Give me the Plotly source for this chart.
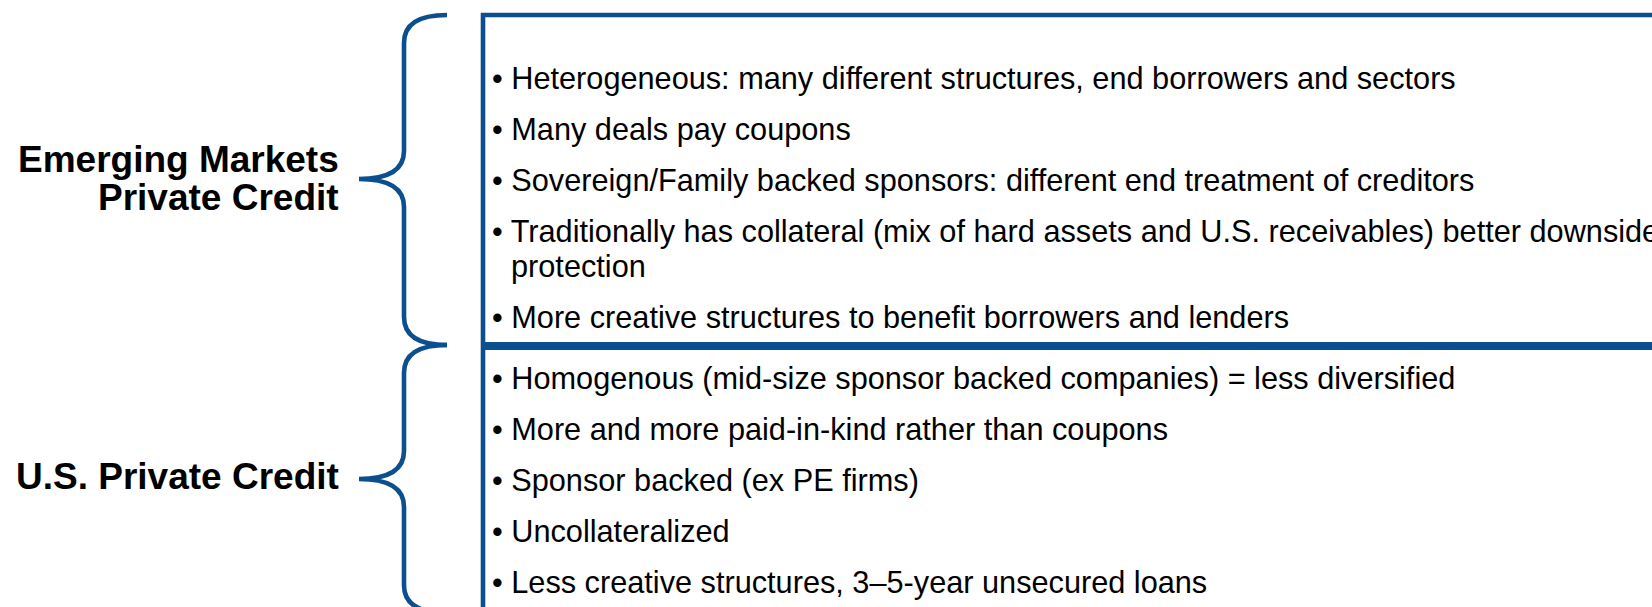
import plotly.graph_objects as go

# ---- content ----
em_label = ["Emerging Markets", "Private Credit"]
us_label = ["U.S. Private Credit"]
em_points = [
    ["Heterogeneous: many different structures, end borrowers and sectors"],
    ["Many deals pay coupons"],
    ["Sovereign/Family backed sponsors: different end treatment of creditors"],
    ["Traditionally has collateral (mix of hard assets and U.S. receivables) better downside", "protection"],
    ["More creative structures to benefit borrowers and lenders"],
]
us_points = [
    ["Homogenous (mid-size sponsor backed companies) = less diversified"],
    ["More and more paid-in-kind rather than coupons"],
    ["Sponsor backed (ex PE firms)"],
    ["Uncollateralized"],
    ["Less creative structures, 3\u20135-year unsecured loans"],
]

# ---- layout constants ----
W, H = 1652, 607
BLUE = "#0B4F8E"
FONT = "Liberation Sans, Arial, sans-serif"
TXT_SIZE = 30.7
LBL_SIZE = 37
LW = 4.6

box_left, box_top, split = 483, 15, 346
spine, end_x, tip_x, r = 404, 447, 359, 28

fig = go.Figure()
shapes = []


def brace(y0, y1, ym):
    return (f"M {end_x},{y0} Q {spine},{y0} {spine},{y0 + r} "
            f"L {spine},{ym - r} Q {spine},{ym} {tip_x},{ym} "
            f"Q {spine},{ym} {spine},{ym + r} L {spine},{y1 - r} "
            f"Q {spine},{y1} {end_x},{y1}")


for (y0, y1, ym) in [(15, 345, 179), (345, 613, 479)]:
    shapes.append(dict(type="path", path=brace(y0, y1, ym), xref="x", yref="y",
                       line=dict(color=BLUE, width=LW)))

# box edges (box extends beyond the canvas on the right and bottom)
shapes.append(dict(type="line", xref="x", yref="y", x0=box_left - 2, x1=W + 20,
                   y0=box_top, y1=box_top, line=dict(color=BLUE, width=LW)))
shapes.append(dict(type="line", xref="x", yref="y", x0=box_left, x1=box_left,
                   y0=box_top - 2, y1=H + 20, line=dict(color=BLUE, width=LW)))
shapes.append(dict(type="line", xref="x", yref="y", x0=box_left, x1=W + 20,
                   y0=split, y1=split, line=dict(color=BLUE, width=8)))

annotations = []


def add_points(points, y_start, step, wrap_step):
    y = y_start
    for item in points:
        annotations.append(dict(x=489.5, y=y, xref="x", yref="y", xanchor="left",
                                yanchor="middle", showarrow=False,
                                text="\u2022 " + item[0],
                                font=dict(family=FONT, size=TXT_SIZE, color="#000")))
        for extra in item[1:]:
            y += wrap_step
            annotations.append(dict(x=508.5, y=y, xref="x", yref="y", xanchor="left",
                                    yanchor="middle", showarrow=False, text=extra,
                                    font=dict(family=FONT, size=TXT_SIZE, color="#000")))
        y += step


add_points(em_points, 78.5, 51, 34.6)
add_points(us_points, 378, 51, 34.6)

for i, t in enumerate(em_label):
    annotations.append(dict(x=341, y=159 + 38 * i, xref="x", yref="y", xanchor="right",
                            yanchor="middle", showarrow=False, text=f"<b>{t}</b>",
                            font=dict(family=FONT, size=LBL_SIZE, color="#000")))
for t in us_label:
    annotations.append(dict(x=341, y=476, xref="x", yref="y", xanchor="right",
                            yanchor="middle", showarrow=False, text=f"<b>{t}</b>",
                            font=dict(family=FONT, size=LBL_SIZE, color="#000")))

fig.update_layout(
    width=W, height=H, autosize=False,
    margin=dict(l=0, r=0, t=0, b=0),
    paper_bgcolor="white", plot_bgcolor="white",
    xaxis=dict(range=[0, W], visible=False, fixedrange=True),
    yaxis=dict(range=[H, 0], visible=False, fixedrange=True),
    shapes=shapes, annotations=annotations, showlegend=False,
    hovermode=False,
)

fig.write_html("out.html", config={"displayModeBar": False},
               post_script="document.body.style.margin='0';document.body.style.overflow='hidden';")
